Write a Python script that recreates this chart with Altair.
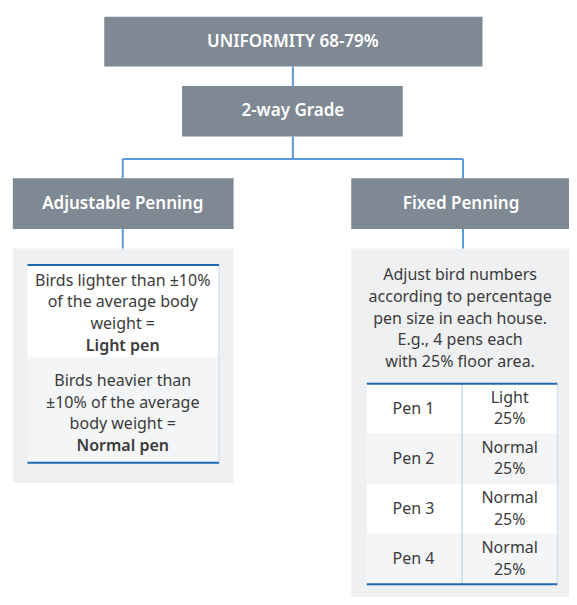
import altair as alt
import pandas as pd

# ---- text content ----
header_top = "UNIFORMITY 68-79%"
header_mid = "2-way Grade"
branch_titles = ["Adjustable Penning", "Fixed Penning"]
adjustable_lines = [
    ["Birds lighter than ±10%", "of the average body", "weight ="],
    ["Birds heavier than", "±10% of the average", "body weight ="],
]
adjustable_labels = ["Light pen", "Normal pen"]
fixed_intro = ["Adjust bird numbers", "according to percentage",
               "pen size in each house.", "E.g., 4 pens each",
               "with 25% floor area."]
pen_names = ["Pen 1", "Pen 2", "Pen 3", "Pen 4"]
pen_types = ["Light", "Normal", "Normal", "Normal"]
pen_shares = [25, 25, 25, 25]

# ---- layout (diagram coordinates, y downward) ----
W, H = 577, 605
BOX = "#7f8993"
LINK = "#5a9ad6"
PANEL = "#eff0f2"
ALT = "#f4f5f7"
EDGE = "#1f6ab4"
THIN = "#c9d9ec"
TXT = "#3b3b3b"

rects = []
rules = []
texts_n = []
texts_b = []

def rect(x, x2, y, y2, c):
    rects.append(dict(x=x, x2=x2, y=y, y2=y2, c=c))

def rule(x, x2, y, y2, c, w):
    rules.append(dict(x=x, x2=x2, y=y, y2=y2, c=c, w=w))

def txt(lst, x, y, t, c, s):
    lst.append(dict(x=x, y=y, t=t, c=c, s=s))

# header boxes
rect(99, 488, 9, 60, BOX)
rect(179, 406, 80, 132, BOX)
rect(5, 232, 175, 227, BOX)
rect(353, 577, 175, 227, BOX)
txt(texts_b, 293, 35, header_top, "white", 17)
txt(texts_b, 293, 106, header_mid, "white", 17)
txt(texts_b, 118, 201, branch_titles[0], "white", 17)
txt(texts_b, 466, 201, branch_titles[1], "white", 17)

# connectors
rule(293, 293, 60, 80, LINK, 2)
rule(293, 293, 132, 155, LINK, 2)
rule(118, 468, 155, 155, LINK, 2)
rule(118, 118, 155, 175, LINK, 2)
rule(468, 468, 155, 175, LINK, 2)
rule(118, 118, 227, 247, LINK, 2)
rule(468, 468, 227, 247, LINK, 2)

# left panel
rect(5, 232, 247, 488, PANEL)
rect(20, 217, 264, 359, "white")
rect(20, 217, 359, 467, ALT)
rule(217, 217, 264, 467, THIN, 1)
rule(20, 217, 264, 264, EDGE, 2)
rule(20, 217, 467, 467, EDGE, 2)
row_tops = [280, 383]
for i, lines in enumerate(adjustable_lines):
    for j, ln in enumerate(lines):
        txt(texts_n, 118, row_tops[i] + j * 22.3, ln, TXT, 16)
    txt(texts_b, 118, row_tops[i] + 3 * 22.3, adjustable_labels[i], TXT, 16)

# right panel
rect(353, 577, 247, 605, PANEL)
for j, ln in enumerate(fixed_intro):
    txt(texts_n, 465, 274 + j * 22.5, ln, TXT, 16)
row_edges = [386, 437, 489, 540, 592]
for i in range(4):
    rect(369, 565, row_edges[i], row_edges[i + 1], "white" if i % 2 == 0 else ALT)
    mid = (row_edges[i] + row_edges[i + 1]) / 2
    txt(texts_n, 417, mid, pen_names[i], TXT, 16)
    txt(texts_n, 516, mid - 11, pen_types[i], TXT, 16)
    txt(texts_n, 516, mid + 11, f"{pen_shares[i]}%", TXT, 16)
rule(467, 467, 386, 592, THIN, 1.5)
rule(565, 565, 386, 592, THIN, 1)
rule(369, 565, 386, 386, EDGE, 2)
rule(369, 565, 592, 592, EDGE, 2)

xs = alt.Scale(domain=[0, W], nice=False, zero=False)
ys = alt.Scale(domain=[0, H], nice=False, zero=False, reverse=True)

rect_layer = alt.Chart(pd.DataFrame(rects)).mark_rect().encode(
    x=alt.X("x:Q", scale=xs, axis=None),
    x2="x2:Q",
    y=alt.Y("y:Q", scale=ys, axis=None),
    y2="y2:Q",
    color=alt.Color("c:N", scale=None),
)
rule_layer = alt.Chart(pd.DataFrame(rules)).mark_rule().encode(
    x=alt.X("x:Q", scale=xs, axis=None),
    x2="x2:Q",
    y=alt.Y("y:Q", scale=ys, axis=None),
    y2="y2:Q",
    color=alt.Color("c:N", scale=None),
    strokeWidth=alt.StrokeWidth("w:Q", scale=None),
)

def text_layer(rows, weight):
    return alt.Chart(pd.DataFrame(rows)).mark_text(
        font="Noto Sans", fontWeight=weight, align="center", baseline="middle"
    ).encode(
        x=alt.X("x:Q", scale=xs, axis=None),
        y=alt.Y("y:Q", scale=ys, axis=None),
        text="t:N",
        color=alt.Color("c:N", scale=None),
        size=alt.Size("s:Q", scale=None),
    )

chart = alt.layer(
    rect_layer, rule_layer, text_layer(texts_n, "normal"), text_layer(texts_b, 600)
).properties(
    width=561, height=589, padding=0, autosize=alt.AutoSizeParams(type="none"),
    background="white",
).configure_view(stroke=None)

chart.save("out.html", embed_options={"renderer": "svg", "actions": False})
